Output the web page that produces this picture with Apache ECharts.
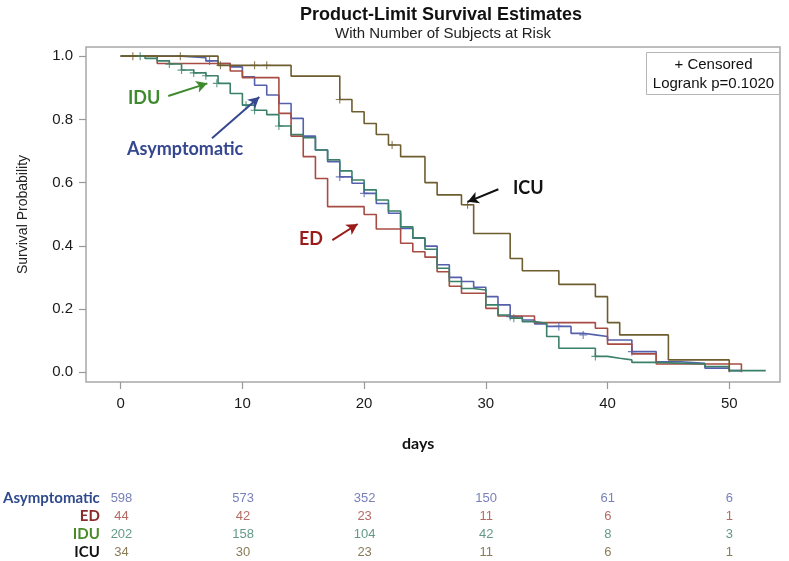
<!DOCTYPE html>
<html><head><meta charset="utf-8">
<script src="https://cdn.jsdelivr.net/npm/echarts@6/dist/echarts.min.js"></script>
<style>html,body{margin:0;padding:0;background:#fff}#c{width:789px;height:561px}</style>
</head><body><div id="c"></div>
<script>
// ---- data ----
const xTicks = [0, 10, 20, 30, 40, 50];
const yTicks = [0, 0.2, 0.4, 0.6, 0.8, 1.0];
const groups = ['Asymptomatic', 'ED', 'IDU', 'ICU'];

// Kaplan-Meier steps: [day, survival after event]
const asymSteps = [[0,1],[5,0.995],[7,0.985],[8,0.977],[9,0.966],[10,0.935],[11,0.908],[12,0.877],[13,0.85],[14,0.803],[15,0.747],[16,0.703],[17,0.666],[18,0.618],[19,0.598],[20,0.566],[21,0.534],[22,0.503],[23,0.455],[24,0.424],[25,0.399],[26,0.34],[27,0.30],[28,0.287],[29,0.269],[30,0.239],[31,0.213],[32,0.176],[33,0.165],[34,0.153],[35,0.145],[37,0.123],[38,0.118],[39,0.113],[40,0.102],[42,0.065],[44,0.033],[46,0.028],[48,0.013],[50,0.005],[51,0.005]];
const edSteps = [[0,1],[3,0.977],[9,0.953],[10,0.932],[13,0.819],[14,0.747],[15,0.682],[16,0.613],[17,0.524],[20,0.499],[21,0.453],[23,0.408],[24,0.381],[25,0.364],[26,0.318],[27,0.272],[28,0.25],[30,0.202],[31,0.178],[34,0.157],[39,0.139],[40,0.089],[42,0.058],[44,0.026],[51,0]];
const iduSteps = [[0,1],[2,0.993],[3,0.985],[4,0.975],[5,0.956],[6,0.947],[7,0.938],[8,0.914],[9,0.882],[10,0.845],[11,0.829],[12,0.815],[13,0.779],[14,0.752],[15,0.742],[16,0.703],[17,0.672],[18,0.637],[19,0.608],[20,0.577],[21,0.545],[22,0.51],[23,0.46],[24,0.425],[25,0.389],[26,0.329],[27,0.287],[28,0.265],[29,0.26],[30,0.213],[31,0.181],[32,0.171],[33,0.16],[34,0.155],[35,0.113],[36,0.076],[39,0.05],[40,0.044],[41,0.039],[42,0.031],[44,0.026],[48,0.018],[50,0.005],[53,0.005]];
const icuSteps = [[0,1],[8,0.971],[14,0.937],[18,0.863],[19,0.824],[20,0.787],[21,0.752],[22,0.719],[23,0.682],[25,0.6],[26,0.561],[28,0.53],[29,0.439],[32,0.36],[33,0.321],[36,0.278],[39,0.239],[40,0.157],[41,0.118],[45,0.039],[50,0]];

// censored observations
const asymCensor = [[7.3,0.985],[18,0.618],[20,0.566],[32,0.176],[36,0.145],[38,0.118],[42,0.065]];
const iduCensor = [[1.6,1],[4,0.975],[5,0.956],[6,0.947],[7,0.938],[7.9,0.914],[10.3,0.845],[11,0.829],[13,0.779],[32.3,0.171],[39,0.05]];
const icuCensor = [[1,1],[4.9,1],[8.2,0.971],[11,0.971],[12,0.971],[18,0.863],[22.3,0.719],[28.5,0.53]];

// number of subjects at risk at xTicks
const atRiskAsym = [598, 573, 352, 150, 61, 6];
const atRiskED = [44, 42, 23, 11, 6, 1];
const atRiskIDU = [202, 158, 104, 42, 8, 3];
const atRiskICU = [34, 30, 23, 11, 6, 1];

const legendLines = ['+ Censored', 'Logrank p=0.1020'];

// ---- style ----
const lineColors = ['#5560AC', '#A84C43', '#3B8068', '#6E5D2E'];
const tableColors = ['#5660A8', '#A2453E', '#3B7E67', '#6B5A2E'];
const nameColors = ['#2F4A8C', '#8B2B2B', '#4A8A2A', '#111111'];
const annColors = ['#35478F', '#9B1B1B', '#3E8B2E', '#111111'];
const plusPath = 'path://M0,4.3H10V5.7H0Z M4.3,0H5.7V10H4.3Z';

const chart = echarts.init(document.getElementById('c'), null, {renderer: 'canvas'});

function kmSeries(name, data, color) {
  return {type: 'line', name, data, step: 'end', showSymbol: false, symbol: 'none',
    lineStyle: {color, width: 1.6}, itemStyle: {color}, z: 3};
}
function censorSeries(data, color) {
  return {type: 'scatter', data, symbol: plusPath, symbolSize: 8, itemStyle: {color}, z: 4, silent: true};
}
function arrow(from, to, color) {
  return {silent: true, symbol: ['none', 'arrow'], symbolSize: [9, 11], label: {show: false},
    lineStyle: {color, width: 2, type: 'solid'}, emphasis: {disabled: true},
    data: [[{coord: from}, {coord: to}]]};
}

const atRisk = [atRiskAsym, atRiskED, atRiskIDU, atRiskICU];
const tableSeries = atRisk.map((arr, r) => ({
  type: 'scatter', xAxisIndex: 1, yAxisIndex: 1, symbolSize: 0, silent: true,
  data: xTicks.map((x, i) => [x, r, arr[i]]),
  label: {show: true, position: 'inside', formatter: p => String(p.value[2]),
    color: tableColors[r], fontSize: 13, fontFamily: 'Liberation Sans'}
}));

const sAsym = kmSeries('Asymptomatic', asymSteps, lineColors[0]);
sAsym.markLine = arrow([7.5, 0.74], [11.39, 0.871], annColors[0]);
const sED = kmSeries('ED', edSteps, lineColors[1]);
sED.markLine = arrow([17.39, 0.418], [19.47, 0.469], annColors[1]);
const sIDU = kmSeries('IDU', iduSteps, lineColors[2]);
sIDU.markLine = arrow([3.91, 0.874], [7.12, 0.914], annColors[2]);
const sICU = kmSeries('ICU', icuSteps, lineColors[3]);
sICU.markLine = arrow([31.03, 0.579], [28.51, 0.539], annColors[3]);

const rich = {};
groups.forEach((g, i) => { rich['r' + i] = {color: nameColors[i], fontWeight: 'bold', fontSize: 15, fontFamily: 'Lato'}; });

chart.setOption({
  animation: false,
  backgroundColor: '#fff',
  title: [
    {text: 'Product-Limit Survival Estimates', left: 436, top: 1, textAlign: 'center',
      textStyle: {fontFamily: 'Liberation Sans', fontWeight: 'bold', fontSize: 18, color: '#111'}},
    {text: 'With Number of Subjects at Risk', left: 438, top: 21, textAlign: 'center',
      textStyle: {fontFamily: 'Liberation Sans', fontWeight: 'normal', fontSize: 15, color: '#222'}}
  ],
  grid: [
    {left: 86, right: 9, top: 47, bottom: 179, show: true, borderColor: '#a8a8a8', borderWidth: 1.5},
    {left: 86, right: 9, top: 489, height: 76}
  ],
  xAxis: [
    {type: 'value', min: -2.85, max: 54.17, axisLine: {show: false, onZero: false}, splitLine: {show: false},
      axisTick: {show: true, inside: false, customValues: xTicks, length: 7, lineStyle: {color: '#999', width: 1.2}},
      axisLabel: {customValues: xTicks, margin: 14, fontSize: 15, fontFamily: 'Liberation Sans', color: '#1a1a1a'}},
    {type: 'value', gridIndex: 1, min: -2.85, max: 54.17, show: false}
  ],
  yAxis: [
    {type: 'value', min: -0.031, max: 1.029, axisLine: {show: false, onZero: false}, splitLine: {show: false},
      axisTick: {show: true, inside: false, customValues: yTicks, length: 7, lineStyle: {color: '#999', width: 1.2}},
      axisLabel: {customValues: yTicks, formatter: v => v.toFixed(1), margin: 13, fontSize: 15, fontFamily: 'Liberation Sans', color: '#1a1a1a'},
      name: 'Survival Probability', nameLocation: 'middle', nameGap: 56,
      nameTextStyle: {fontSize: 14, fontFamily: 'Liberation Sans', color: '#222'}},
    {type: 'category', gridIndex: 1, data: groups, inverse: true,
      axisLine: {show: false, onZero: false}, axisTick: {show: false}, splitLine: {show: false},
      axisLabel: {margin: -13, formatter: (v, i) => '{r' + i + '|' + v + '}', rich}}
  ],
  series: [sAsym, sED, sIDU, sICU,
    censorSeries(asymCensor, lineColors[0]),
    censorSeries(iduCensor, lineColors[2]),
    censorSeries(icuCensor, lineColors[3]),
    ...tableSeries],
  graphic: [
    {type: 'text', left: 402, top: 436, style: {text: 'days', font: 'bold 16px Lato', fill: '#111'}},
    {type: 'text', left: 128, top: 89, style: {text: 'IDU', fill: annColors[2], font: 'bold 18px Lato'}},
    {type: 'text', left: 127, top: 140, style: {text: 'Asymptomatic', fill: annColors[0], font: 'bold 18px Lato'}},
    {type: 'text', left: 299, top: 230, style: {text: 'ED', fill: annColors[1], font: 'bold 18px Lato'}},
    {type: 'text', left: 513, top: 179, style: {text: 'ICU', fill: annColors[3], font: 'bold 18px Lato'}},
    {type: 'group', left: 646, top: 52, children: [
      {type: 'rect', shape: {x: 0, y: 0, width: 133, height: 42}, style: {fill: '#fff', stroke: '#b5b5b5', lineWidth: 1}},
      {type: 'text', x: 67, y: 12, style: {text: legendLines[0], font: '15px "Liberation Sans"', fill: '#111', align: 'center', verticalAlign: 'middle'}},
      {type: 'text', x: 67, y: 31, style: {text: legendLines[1], font: '15px "Liberation Sans"', fill: '#111', align: 'center', verticalAlign: 'middle'}}
    ]}
  ]
});
</script>
</body></html>
